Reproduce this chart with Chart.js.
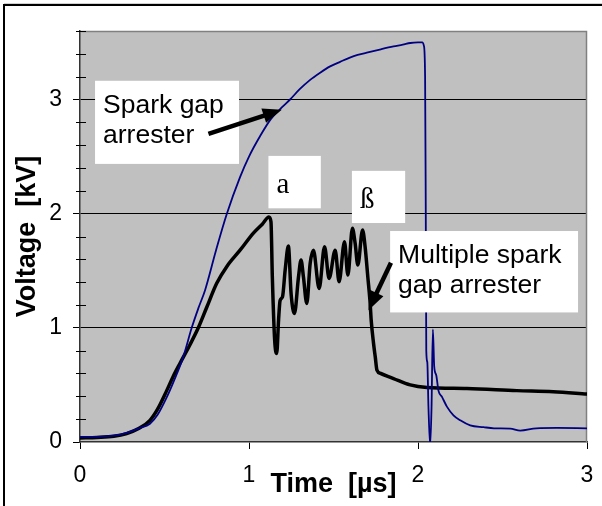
<!DOCTYPE html>
<html><head><meta charset="utf-8">
<script src="https://cdn.jsdelivr.net/npm/chart.js@4/dist/chart.umd.min.js"></script>
<style>html,body{margin:0;padding:0;background:#fff;}#wrap{width:602px;height:506px;}</style>
</head><body><div id="wrap"><canvas id="c" width="602" height="506"></canvas></div>
<script>
// ---- data (time in µs, voltage in kV) ----
const xTickValues = [0, 1, 2, 3];
const yTickValues = [0, 1, 2, 3];

const sparkTime = [0, 0.1, 0.2, 0.276, 0.35, 0.414, 0.46, 0.513, 0.56, 0.612, 0.661, 0.70, 0.74, 0.805, 0.868, 0.947, 1.0, 1.066, 1.13, 1.194, 1.243, 1.30, 1.36, 1.421, 1.48, 1.539, 1.62, 1.697, 1.78, 1.855, 1.91, 1.954, 2.0, 2.025, 2.035, 2.042, 2.046, 2.049, 2.055, 2.062, 2.072, 2.08, 2.088, 2.096, 2.108, 2.121, 2.142, 2.171, 2.21, 2.25, 2.309, 2.388, 2.45, 2.546, 2.605, 2.7, 2.822, 3.0];
const sparkVolt = [0.045, 0.045, 0.055, 0.08, 0.12, 0.16, 0.24, 0.39, 0.55, 0.75, 1.0, 1.17, 1.33, 1.68, 1.995, 2.32, 2.5, 2.68, 2.83, 2.93, 3.0, 3.09, 3.17, 3.235, 3.29, 3.33, 3.38, 3.41, 3.44, 3.465, 3.48, 3.495, 3.50, 3.50, 3.47, 3.2, 2.0, 0.8, 0.7, 0.3, -0.03, 0.3, 0.986, 0.66, 0.585, 0.45, 0.395, 0.31, 0.234, 0.19, 0.146, 0.13, 0.12, 0.117, 0.10, 0.12, 0.123, 0.12];

const multiTime = [0, 0.1, 0.2, 0.276, 0.35, 0.414, 0.46, 0.513, 0.55, 0.592, 0.65, 0.70, 0.75, 0.809, 0.87, 0.947, 1.026, 1.08, 1.118, 1.13, 1.138, 1.152, 1.164, 1.175, 1.184, 1.198, 1.214, 1.233, 1.249, 1.269, 1.293, 1.308, 1.322, 1.342, 1.362, 1.381, 1.415, 1.447, 1.474, 1.51, 1.533, 1.565, 1.585, 1.612, 1.628, 1.644, 1.672, 1.687, 1.703, 1.717, 1.723, 1.737, 1.747, 1.757, 1.78, 1.855, 1.954, 2.053, 2.29, 2.585, 2.8, 3.0];
const multiVolt = [0.035, 0.04, 0.05, 0.074, 0.12, 0.19, 0.29, 0.45, 0.57, 0.69, 0.85, 1.0, 1.18, 1.39, 1.54, 1.68, 1.83, 1.91, 1.97, 1.93, 1.45, 0.89, 0.775, 1.07, 1.24, 1.27, 1.506, 1.717, 1.30, 1.126, 1.447, 1.594, 1.447, 1.214, 1.565, 1.68, 1.345, 1.71, 1.433, 1.68, 1.404, 1.754, 1.462, 1.872, 1.74, 1.55, 1.857, 1.71, 1.447, 1.214, 1.067, 0.863, 0.746, 0.63, 0.60, 0.556, 0.50, 0.477, 0.468, 0.45, 0.44, 0.42];

// annotation anchors in data units
const labelBoxes = [
  {t0: 0.089, t1: 0.941, v0: 3.164, v1: 2.436, lines: ['Spark gap', 'arrester'], serif: false},
  {t0: 1.115, t1: 1.425, v0: 2.506, v1: 2.047, lines: ['a'], serif: true},
  {t0: 1.609, t1: 1.924, v0: 2.375, v1: 1.918, lines: ['ß'], serif: true},
  {t0: 1.835, t1: 2.947, v0: 1.848, v1: 1.135, lines: ['Multiple spark', 'gap arrester'], serif: false}
];
const arrows = [
  {t0: 0.760, v0: 2.699, t1: 1.194, v1: 2.91},
  {t0: 1.840, v0: 1.570, t1: 1.707, v1: 1.155}
];

const SANS = '"Liberation Sans", Arial, sans-serif';
const SERIF = '"Liberation Serif", "Times New Roman", serif';

const toXY = (ts, vs) => ts.map((t, i) => ({x: t, y: vs[i]}));

const decoPlugin = {
  id: 'deco',
  beforeDraw(chart) {
    const {ctx, chartArea: a} = chart;
    ctx.save();
    ctx.fillStyle = '#fff';
    ctx.fillRect(0, 0, chart.width, chart.height);
    ctx.fillStyle = '#c0c0c0';
    ctx.fillRect(a.left, a.top, a.right - a.left, a.bottom - a.top);
    ctx.strokeStyle = '#000';
    ctx.lineWidth = 2;
    ctx.beginPath();
    ctx.moveTo(4, chart.height);
    ctx.lineTo(4, 5);
    ctx.lineTo(chart.width, 5);
    ctx.stroke();
    ctx.strokeStyle = '#d0d0d0';
    ctx.lineWidth = 1;
    ctx.beginPath();
    ctx.moveTo(4, 3.5);
    ctx.lineTo(chart.width, 3.5);
    ctx.stroke();
    ctx.restore();
  },
  beforeDatasetsDraw(chart) {
    const {ctx, chartArea: a, scales: {y}} = chart;
    ctx.save();
    ctx.strokeStyle = '#808080';
    ctx.lineWidth = 1.5;
    ctx.beginPath();
    ctx.moveTo(a.left, a.top + 0.5);
    ctx.lineTo(a.right - 0.5, a.top + 0.5);
    ctx.lineTo(a.right - 0.5, a.bottom);
    ctx.stroke();
    ctx.strokeStyle = '#000';
    ctx.lineWidth = 1;
    for (let k = 1; k <= 18; k++) {
      if (k % 5 === 0) continue;
      const py = Math.round(y.getPixelForValue(k * 0.2)) + 0.5;
      ctx.beginPath();
      ctx.moveTo(a.left - 4, py);
      ctx.lineTo(a.left + 6, py);
      ctx.stroke();
    }
    ctx.restore();
  },
  afterDatasetsDraw(chart) {
    const {ctx, scales: {x, y}} = chart;
    ctx.save();
    labelBoxes.forEach(b => {
      const l = x.getPixelForValue(b.t0), r = x.getPixelForValue(b.t1);
      const t = y.getPixelForValue(b.v0), btm = y.getPixelForValue(b.v1);
      ctx.fillStyle = '#fff';
      ctx.fillRect(l, t, r - l, btm - t);
      ctx.fillStyle = '#000';
      ctx.textAlign = 'left';
      ctx.textBaseline = 'alphabetic';
      if (b.serif) {
        ctx.font = '29px ' + SERIF;
        ctx.fillText(b.lines[0], l + 8, t + 37);
      } else {
        ctx.font = '26.5px ' + SANS;
        b.lines.forEach((s, i) => ctx.fillText(s, l + 8, t + 32 + i * 30));
      }
    });
    arrows.forEach(ar => {
      const x0 = x.getPixelForValue(ar.t0), y0 = y.getPixelForValue(ar.v0);
      const x1 = x.getPixelForValue(ar.t1), y1 = y.getPixelForValue(ar.v1);
      const ang = Math.atan2(y1 - y0, x1 - x0);
      const hl = 19, hw = 7.5;
      const bx = x1 - hl * Math.cos(ang), by = y1 - hl * Math.sin(ang);
      ctx.strokeStyle = '#000';
      ctx.lineWidth = 4.5;
      ctx.beginPath();
      ctx.moveTo(x0, y0);
      ctx.lineTo(bx + 2 * Math.cos(ang), by + 2 * Math.sin(ang));
      ctx.stroke();
      ctx.fillStyle = '#000';
      ctx.beginPath();
      ctx.moveTo(x1, y1);
      ctx.lineTo(bx + hw * Math.sin(ang), by - hw * Math.cos(ang));
      ctx.lineTo(bx - hw * Math.sin(ang), by + hw * Math.cos(ang));
      ctx.closePath();
      ctx.fill();
    });
    ctx.restore();
  }
};

new Chart(document.getElementById('c'), {
  type: 'line',
  data: {
    datasets: [
      {label: 'Spark gap arrester', data: toXY(sparkTime, sparkVolt), borderColor: '#000080', borderWidth: 1.8, pointRadius: 0, cubicInterpolationMode: 'monotone', borderJoinStyle: 'round'},
      {label: 'Multiple spark gap arrester', data: toXY(multiTime, multiVolt), borderColor: '#000', borderWidth: 3.5, pointRadius: 0, cubicInterpolationMode: 'monotone', borderJoinStyle: 'round', borderCapStyle: 'round'}
    ]
  },
  options: {
    responsive: false,
    animation: false,
    parsing: false,
    layout: {padding: {top: 31, right: 15, left: 0, bottom: 0}},
    plugins: {legend: {display: false}, tooltip: {enabled: false}},
    scales: {
      x: {
        type: 'linear', min: 0, max: 3,
        afterBuildTicks: s => { s.ticks = xTickValues.map(v => ({value: v})); },
        afterFit: s => { s.height = 64; s.paddingLeft = 0; s.paddingRight = 0; },
        grid: {drawOnChartArea: false, tickLength: 7, tickColor: '#000', lineWidth: 1},
        border: {color: '#333', width: 1.5},
        ticks: {font: {family: SANS, size: 23}, color: '#000', padding: 13, maxRotation: 0, autoSkip: false},
        title: {display: true, text: 'Time  [µs]', color: '#000', font: {family: SANS, size: 27, weight: 'bold'}, padding: {top: 0, bottom: 5}}
      },
      y: {
        type: 'linear', min: 0, max: 3.6,
        afterBuildTicks: s => { s.ticks = yTickValues.map(v => ({value: v})); },
        afterFit: s => { s.width = 80; s.paddingTop = 0; s.paddingBottom = 0; },
        grid: {color: c => (c.tick && c.tick.value > 0) ? '#000' : 'rgba(0,0,0,0)', tickColor: '#000', tickLength: 7, lineWidth: 1},
        border: {color: '#333', width: 1.5},
        ticks: {font: {family: SANS, size: 23}, color: '#000', padding: 11},
        title: {display: true, text: 'Voltage  [kV]', color: '#000', font: {family: SANS, size: 27, weight: 'bold'}, padding: {top: 11, bottom: 0}}
      }
    }
  },
  plugins: [decoPlugin]
});
</script></body></html>
